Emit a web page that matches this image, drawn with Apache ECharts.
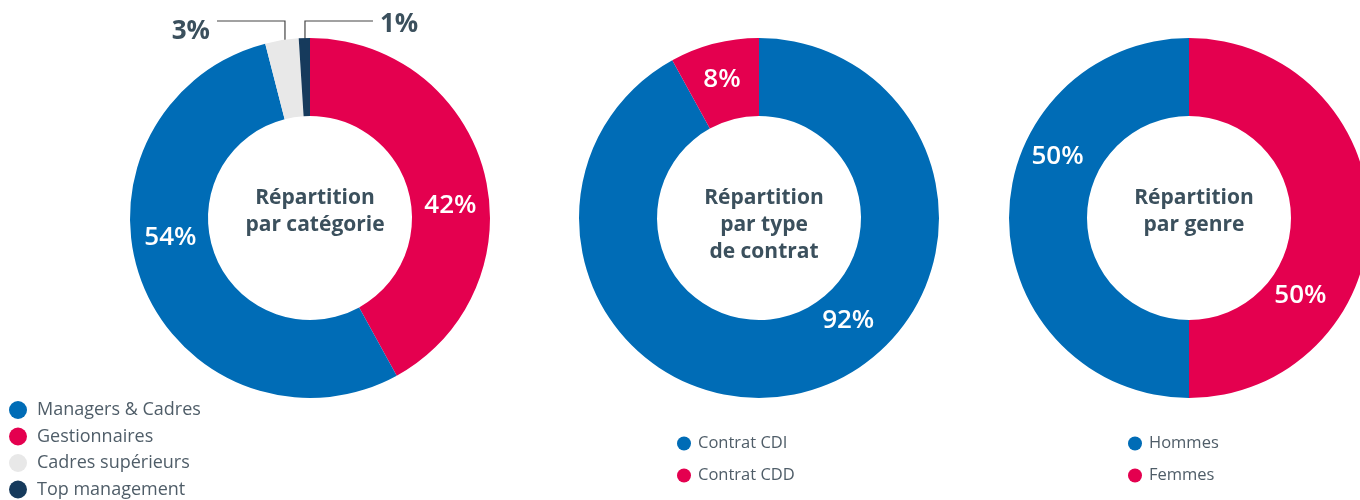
<!DOCTYPE html>
<html>
<head>
<meta charset="utf-8">
<script src="https://cdn.jsdelivr.net/npm/echarts@6/dist/echarts.min.js"></script>
<style>
html,body{margin:0;padding:0;background:#fff;}
#c{width:1360px;height:500px;}
</style>
</head>
<body>
<div id="c"></div>
<script>
// ---- data ----
const catNames = ['Gestionnaires', 'Managers & Cadres', 'Cadres supérieurs', 'Top management'];
const catValues = [42, 54, 3, 1];
const catLegend = ['Managers & Cadres', 'Gestionnaires', 'Cadres supérieurs', 'Top management'];

const contratNames = ['Contrat CDI', 'Contrat CDD'];
const contratValues = [92, 8];

const genreNames = ['Femmes', 'Hommes'];
const genreValues = [50, 50];
const genreLegend = ['Hommes', 'Femmes'];

const titles = ['Répartition\npar catégorie', 'Répartition\npar type\nde contrat', 'Répartition\npar genre'];

// ---- style ----
const BLUE = '#006cb6', RED = '#e4004f', GRAY = '#e8e8e8', NAVY = '#163a5c';
const TXT = '#3b505d', LEG = '#4f5d68';
const FONT = '"Open Sans", "Noto Sans", sans-serif';
const R_OUT = 180, R_IN = 102, R_LAB = 141;
const centers = [[310, 218], [759, 218], [1189, 218]];
// label angles (degrees clockwise from top) for inside labels
const labelAngles = [[85, 262, null, null], [139, 345], [125, 295]];
const labelRadius = [[R_LAB, R_LAB], [136, 143], [136, 145]];
const leaderSide = [null, null, -1, 1];

function pos(ci, ang, r) {
  const a = ang * Math.PI / 180;
  return [centers[ci][0] + r * Math.sin(a), centers[ci][1] - r * Math.cos(a)];
}

function makeData(names, values, colors) {
  return names.map((n, i) => ({ name: n, value: values[i], itemStyle: { color: colors[i] } }));
}

const labelStyle = {
  color: '#fff', fontSize: 26, fontWeight: 600, fontFamily: FONT,
  formatter: p => p.value + '%'
};

// chart 1 : compute mid angles for small slices
const catTotal = catValues.reduce((a, b) => a + b, 0);
const catMid = [];
{ let acc = 0; catValues.forEach(v => { catMid.push((acc + v / 2) / catTotal * 360); acc += v; }); }

const chart = echarts.init(document.getElementById('c'));
const option = {
  animation: false,
  title: titles.map((t, i) => ({
    text: t, left: centers[i][0], top: 180, textAlign: 'center',
    textStyle: { color: TXT, fontSize: 21, fontWeight: 'bold', fontFamily: FONT, lineHeight: 27 }
  })),
  legend: [
    { data: catLegend, orient: 'vertical', left: 9, top: 401, height: 140, padding: 0, itemWidth: 18, itemHeight: 18, itemGap: 8.5,
      icon: 'circle', textStyle: { color: LEG, fontSize: 18, lineHeight: 18, fontFamily: FONT, padding: [0, 0, 0, 5] } },
    { data: contratNames, orient: 'vertical', left: 677, top: 435, padding: 0, itemWidth: 14, itemHeight: 14, itemGap: 15,
      icon: 'circle', textStyle: { color: LEG, fontSize: 16.5, lineHeight: 14, fontFamily: FONT, padding: [0, 0, 0, 2] } },
    { data: genreLegend, orient: 'vertical', left: 1128, top: 435, padding: 0, itemWidth: 14, itemHeight: 14, itemGap: 15,
      icon: 'circle', textStyle: { color: LEG, fontSize: 16.5, lineHeight: 14, fontFamily: FONT, padding: [0, 0, 0, 2] } }
  ],
  series: [
    {
      type: 'pie', center: centers[0], radius: [R_IN, R_OUT], startAngle: 90, clockwise: true,
      legendHoverLink: false, silent: true, avoidLabelOverlap: false,
      data: makeData(catNames, catValues, [RED, BLUE, GRAY, NAVY]).map((d, i) => {
        if (i >= 2) {
          d.label = { position: 'outside', color: TXT, fontSize: 26, fontWeight: 'bold' };
          d.labelLine = { show: true, lineStyle: { color: '#444', width: 1.2 } };
        } else {
          d.label = { position: 'outside' };
          d.labelLine = { show: false };
        }
        return d;
      }),
      label: Object.assign({ show: true, position: 'outside' }, labelStyle),
      labelLayout: function (p) {
        const i = p.dataIndex;
        if (i < 2) {
          const q = pos(0, labelAngles[0][i], labelRadius[0][i]);
          return { x: q[0], y: q[1], align: 'center', verticalAlign: 'middle' };
        }
        const s = pos(0, catMid[i], 160);
        const topY = centers[0][1] - 197;
        const side = leaderSide[i];
        const endX = s[0] + side * 68;
        return {
          x: endX + side * 7, y: topY + (side < 0 ? 11 : 4),
          align: side < 0 ? 'right' : 'left', verticalAlign: 'middle',
          labelLinePoints: [[s[0], s[1]], [s[0], topY], [endX, topY]]
        };
      }
    },
    {
      type: 'pie', center: centers[1], radius: [R_IN, R_OUT], startAngle: 90, clockwise: true,
      silent: true, avoidLabelOverlap: false,
      data: makeData(contratNames, contratValues, [BLUE, RED]),
      label: Object.assign({ show: true, position: 'inside' }, labelStyle),
      labelLine: { show: false },
      labelLayout: function (p) {
        const q = pos(1, labelAngles[1][p.dataIndex], labelRadius[1][p.dataIndex]);
        return { x: q[0], y: q[1], align: 'center', verticalAlign: 'middle' };
      }
    },
    {
      type: 'pie', center: centers[2], radius: [R_IN, R_OUT], startAngle: 90, clockwise: true,
      silent: true, avoidLabelOverlap: false,
      data: makeData(genreNames, genreValues, [RED, BLUE]),
      label: Object.assign({ show: true, position: 'inside' }, labelStyle),
      labelLine: { show: false },
      labelLayout: function (p) {
        const q = pos(2, labelAngles[2][p.dataIndex], labelRadius[2][p.dataIndex]);
        return { x: q[0], y: q[1], align: 'center', verticalAlign: 'middle' };
      }
    }
  ]
};
chart.setOption(option);
</script>
</body>
</html>
